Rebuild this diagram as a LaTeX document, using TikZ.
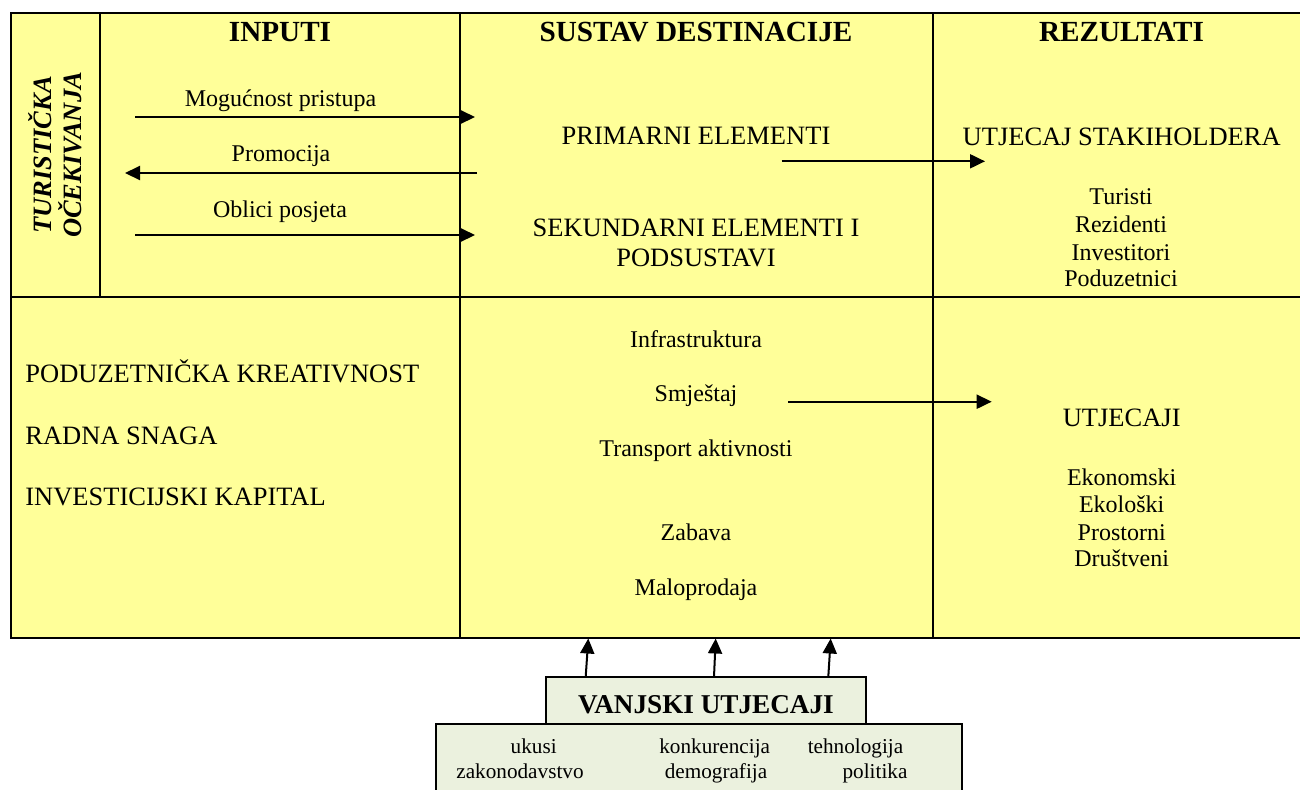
\documentclass[tikz,border=0pt]{standalone}
\usepackage{fontspec}
\setmainfont{Liberation Serif}
\usetikzlibrary{arrows.meta}
\definecolor{ylw}{HTML}{FFFF99}
\definecolor{grn}{HTML}{EBF1DE}
\begin{document}
\begin{tikzpicture}[x=0.5pt,y=-0.5pt,
  frame/.style={line width=1pt},
  gbox/.style={draw=black,fill=grn,line width=0.9pt},
  conn/.style={line width=1pt,-{Triangle[length=7.5pt,width=7pt]}},
  t/.style={inner sep=0pt,anchor=base},
  hdr/.style={t,font=\fontsize{14.6}{17}\selectfont\bfseries},
  lbl/.style={t,font=\fontsize{13.25}{15}\selectfont},
  lblw/.style={lbl,anchor=base west},
  txt/.style={t,font=\fontsize{12}{14}\selectfont},
  sm/.style={t,font=\fontsize{10.6}{12}\selectfont},
  rot/.style={t,rotate=90,font=\fontsize{13.25}{15}\selectfont\bfseries\itshape},
  vj/.style={t,font=\fontsize{13.6}{16}\selectfont\bfseries}]
\useasboundingbox (0,0) rectangle (1300,789);
\clip (0,0) rectangle (1300,789);
% table
\fill[ylw] (11,13) rectangle (1304,638);
\draw[frame] (11,13) rectangle (1304,638);
\draw[frame] (100,13) -- (100,297);
\draw[frame] (11,297) -- (1304,297);
\draw[frame] (460,13) -- (460,638);
\draw[frame] (932.5,13) -- (932.5,638);
% headers
\node[hdr] (inputi) at (280,41.7) {INPUTI};
\node[hdr] (sustav) at (696,41.7) {SUSTAV DESTINACIJE};
\node[hdr] (rez) at (1121.5,41.7) {REZULTATI};
% rotated
\node[rot] (tur) at (51.7,155) {TURISTIČKA};
\node[rot] (ocek) at (81.7,155) {OČEKIVANJA};
% input arrows
\node[txt] (mog) at (280.5,106) {Mogućnost pristupa};
\node[txt] (prom) at (281,161.7) {Promocija};
\node[txt] (obl) at (280,217) {Oblici posjeta};
\coordinate (m1) at (135,117); \coordinate (m2) at (475,117);
\coordinate (p1) at (477,173); \coordinate (p2) at (125,173);
\coordinate (o1) at (135,235); \coordinate (o2) at (475,235);
\draw[conn] (m1) -- (m2);
\draw[conn] (p1) -- (p2);
\draw[conn] (o1) -- (o2);
% system top
\node[lbl] (prim) at (696,144) {PRIMARNI ELEMENTI};
\node[lbl] (sek1) at (696,236.7) {SEKUNDARNI ELEMENTI I};
\node[lbl] (sek2) at (696,266.7) {PODSUSTAVI};
\coordinate (pa1) at (781.7,161.3); \coordinate (pa2) at (985,161.3);
\draw[conn] (pa1) -- (pa2);
% results top
\node[lbl] (stak) at (1121.7,145) {UTJECAJ STAKIHOLDERA};
\node[txt] (tu) at (1121,204) {Turisti};
\node[txt] (re) at (1121,232) {Rezidenti};
\node[txt] (in) at (1121,260) {Investitori};
\node[txt] (po) at (1121,286.7) {Poduzetnici};
% bottom left
\node[lblw] (pk) at (25,382.7) {PODUZETNIČKA KREATIVNOST};
\node[lblw] (rs) at (25,444) {RADNA SNAGA};
\node[lblw] (ik) at (25,505) {INVESTICIJSKI KAPITAL};
% bottom middle
\node[txt] (inf) at (696,347.3) {Infrastruktura};
\node[txt] (smj) at (696,401.7) {Smještaj};
\node[txt] (tra) at (696,456.7) {Transport aktivnosti};
\node[txt] (zab) at (696,540) {Zabava};
\node[txt] (mal) at (696,595) {Maloprodaja};
\coordinate (sa1) at (788,401.7); \coordinate (sa2) at (991.7,401.7);
\draw[conn] (sa1) -- (sa2);
% bottom right
\node[lbl] (utj) at (1121.7,426.7) {UTJECAJI};
\node[txt] (eko) at (1121.7,485) {Ekonomski};
\node[txt] (ekl) at (1121.7,512.7) {Ekološki};
\node[txt] (pro) at (1121.7,540) {Prostorni};
\node[txt] (dru) at (1121.7,566.7) {Društveni};
% external influences
\draw[gbox] (436,724) rectangle (962.3,805);
\draw[gbox] (546,676.7) rectangle (866,724);
\node[vj] (vanj) at (706,713) {VANJSKI UTJECAJI};
\node[sm] (uk) at (533.7,753.3) {ukusi};
\node[sm] (zak) at (520,778.3) {zakonodavstvo};
\node[sm] (kon) at (714.7,753.3) {konkurencija};
\node[sm] (dem) at (716,778.3) {demografija};
\node[sm] (teh) at (855.5,753.3) {tehnologija};
\node[sm] (pol) at (875,778.3) {politika};
\coordinate (u1a) at (585.7,676.7); \coordinate (u1b) at (588.3,638.5);
\coordinate (u2a) at (714,676.7); \coordinate (u2b) at (715.7,638.5);
\coordinate (u3a) at (828.3,676.7); \coordinate (u3b) at (830.7,638.5);
\draw[conn] (u1a) -- (u1b);
\draw[conn] (u2a) -- (u2b);
\draw[conn] (u3a) -- (u3b);
\end{tikzpicture}
\end{document}
